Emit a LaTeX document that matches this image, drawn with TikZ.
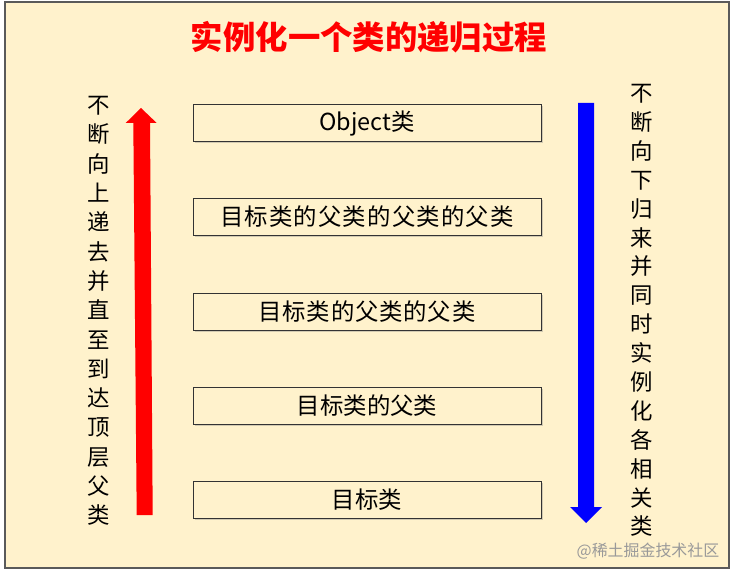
\documentclass[tikz,border=0pt]{standalone}
\usepackage{fontspec}
\setmainfont{Noto Sans CJK SC}
\newfontfamily\widefont{Noto Sans CJK SC}[LetterSpace=5]
\newfontfamily\midfont{Noto Sans CJK SC}[LetterSpace=3.5]
\usetikzlibrary{shadows}
\definecolor{paper}{HTML}{FFF2CC}
\definecolor{frameline}{HTML}{5A5A5A}
\tikzset{
  clsbox/.style={draw=black!80, fill=paper, line width=1bp, minimum width=348bp,
    minimum height=37bp, inner sep=0pt, font=\fontsize{23.5}{28}\selectfont,
    drop shadow={shadow xshift=1.5bp, shadow yshift=-1.5bp, opacity=0.35}},
  vlabel/.style={align=center, inner sep=0pt},
}
\newcommand{\clsnode}[3]{\node[clsbox] (#1) at (367,#2) {#3};}

\begin{document}
\begin{tikzpicture}[x=1bp,y=-1bp]
    \useasboundingbox (0,0) rectangle (735,576);
    \fill[white] (0,0) rectangle (735,576);
    \draw[frameline, line width=2bp, fill=paper] (4.5,2.5) rectangle (728.5,568);

    \node[text=red, font=\fontsize{32.5}{40}\selectfont\bfseries] (title) at (369,37) {实例化一个类的递归过程};

    \clsnode{obj}{123.5}{Object类}
    \clsnode{ggp}{217}{\widefont 目标类的父类的父类的父类}
    \clsnode{gp}{311.5}{\midfont 目标类的父类的父类}
    \clsnode{par}{405.5}{目标类的父类}
    \clsnode{tgt}{500}{目标类}

    % up arrow
    \fill[red] (136.7,515) -- (133.3,123) -- (125.7,123) -- (141,108)
      -- (156.7,123) -- (150,123) -- (152.7,515) -- cycle;
    % down arrow
    \fill[blue] (578,103) -- (578,507) -- (570,507) -- (586,523)
      -- (602,507) -- (594,507) -- (594,103) -- cycle;

    \node[vlabel, font=\fontsize{22.5}{29.4}\selectfont] (uptext) at (99,311)
      {不\\断\\向\\上\\递\\去\\并\\直\\至\\到\\达\\顶\\层\\父\\类};
    \node[vlabel, font=\fontsize{22.5}{29}\selectfont] (downtext) at (642,310.5)
      {不\\断\\向\\下\\归\\来\\并\\同\\时\\实\\例\\化\\各\\相\\关\\类};

    \node[text=black!40, font=\fontsize{16}{20}\selectfont] (mark) at (648,551) {@稀土掘金技术社区};
\end{tikzpicture}
\end{document}
